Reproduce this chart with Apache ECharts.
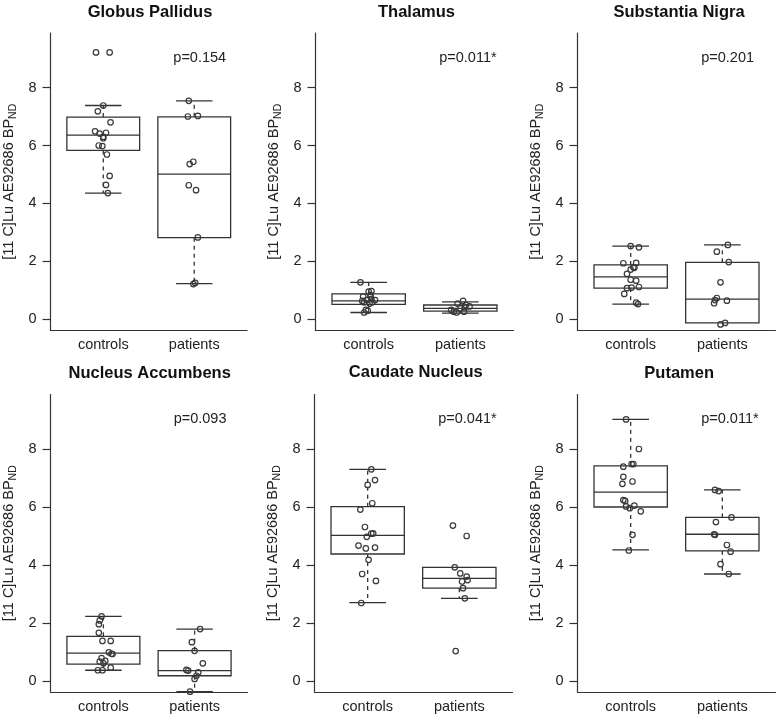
<!DOCTYPE html>
<html>
<head>
<meta charset="utf-8">
<script src="https://cdn.jsdelivr.net/npm/echarts@6/dist/echarts.min.js"></script>
<style>
html,body{margin:0;padding:0;background:#fff;}
#chart{width:777px;height:715px;}
</style>
</head>
<body>
<div id="chart"></div>
<script>
// ---------------- DATA ----------------
const titles = ['Globus Pallidus', 'Thalamus', 'Substantia Nigra', 'Nucleus Accumbens', 'Caudate Nucleus', 'Putamen'];
const groups = ['controls', 'patients'];
const pLabels = ['p=0.154', 'p=0.011*', 'p=0.201', 'p=0.093', 'p=0.041*', 'p=0.011*'];
const pLabelAt = [1.77, 9.03];
const yTicks = [0, 2, 4, 6, 8];
const yAxisTitle = '[11 C]Lu AE92686 BP';
const yAxisSub = 'ND';

// box statistics [lower whisker, Q1, median, Q3, upper whisker]
const ctrlBox = [
  [4.36, 5.83, 6.36, 6.98, 7.38],
  [0.24, 0.52, 0.64, 0.88, 1.28],
  [0.53, 1.08, 1.47, 1.88, 2.53],
  [0.37, 0.58, 0.96, 1.54, 2.23],
  [2.70, 4.38, 5.02, 6.01, 7.30],
  [4.52, 6.00, 6.51, 7.42, 9.02]
];
const patBox = [
  [1.24, 2.82, 5.01, 6.99, 7.54],
  [0.22, 0.29, 0.38, 0.50, 0.61],
  [-0.12, -0.12, 0.70, 1.97, 2.57],
  [-0.37, 0.18, 0.36, 1.05, 1.79],
  [2.85, 3.20, 3.54, 3.92, 3.92],
  [3.69, 4.49, 5.06, 5.64, 6.59]
];

// individual values (y) and their jittered group positions (x)
const ctrlVals = [
  [9.21, 9.21, 7.38, 7.18, 6.80, 6.49, 6.41, 6.44, 6.30, 6.25, 6.00, 5.98, 5.69, 4.95, 4.64, 4.36],
  [1.28, 0.96, 0.98, 0.79, 0.79, 0.64, 0.67, 0.71, 0.67, 0.59, 0.55, 0.59, 0.33, 0.30, 0.24, 0.84],
  [2.53, 2.49, 1.94, 1.95, 1.80, 1.72, 1.57, 1.37, 1.34, 1.08, 1.10, 1.12, 0.88, 0.58, 0.53, 1.78],
  [2.23, 2.09, 1.96, 1.66, 1.38, 1.38, 0.99, 0.94, 0.93, 0.79, 0.67, 0.61, 0.46, 0.37, 0.37, 0.69],
  [7.30, 6.93, 6.76, 6.13, 5.91, 5.31, 5.08, 5.09, 4.97, 4.67, 4.57, 4.60, 4.18, 3.69, 3.45, 2.69],
  [9.02, 8.00, 7.39, 7.48, 7.48, 7.04, 6.88, 6.80, 6.24, 6.21, 6.02, 5.96, 6.05, 5.85, 5.04, 4.50]
];
const ctrlJit = [
  [0.92, 1.07, 1.00, 0.94, 1.08, 0.91, 0.96, 1.03, 1.00, 1.00, 0.95, 0.99, 1.04, 1.07, 1.03, 1.05],
  [0.91, 1.00, 1.03, 0.94, 1.02, 0.93, 0.98, 1.03, 1.07, 0.95, 1.01, 1.04, 0.97, 0.99, 0.95, 1.02],
  [1.00, 1.09, 0.92, 1.06, 1.03, 1.00, 0.96, 1.00, 1.06, 0.96, 1.01, 1.09, 0.93, 1.06, 1.08, 1.04],
  [0.98, 0.96, 0.95, 0.95, 0.99, 1.08, 1.06, 1.09, 1.10, 0.98, 0.96, 1.00, 1.08, 0.94, 0.99, 1.02],
  [1.04, 1.08, 1.00, 1.05, 0.92, 0.97, 1.04, 1.06, 0.99, 0.90, 0.98, 1.08, 1.01, 0.94, 1.09, 0.93],
  [0.95, 1.09, 0.92, 1.01, 1.03, 0.92, 1.02, 0.91, 0.92, 0.94, 0.95, 0.99, 1.04, 1.11, 1.02, 0.98]
];
const patVals = [
  [7.54, 7.00, 7.02, 5.36, 5.44, 4.63, 4.46, 2.83, 1.22, 1.26],
  [0.64, 0.55, 0.50, 0.45, 0.42, 0.38, 0.33, 0.27, 0.24, 0.27],
  [2.57, 2.34, 1.98, 1.28, 0.74, 0.56, 0.65, -0.17, -0.12, 0.67],
  [1.79, 1.34, 1.04, 0.61, 0.38, 0.36, 0.30, 0.18, 0.07, -0.37],
  [5.36, 5.00, 3.92, 3.71, 3.60, 3.48, 3.43, 3.20, 2.85, 1.03],
  [6.59, 6.55, 5.64, 5.48, 5.06, 5.04, 4.69, 4.46, 4.03, 3.69]
];
const patJit = [
  [1.94, 1.93, 2.04, 1.95, 1.99, 1.94, 2.02, 2.04, 1.99, 2.01],
  [2.03, 1.97, 2.06, 2.10, 2.05, 2.00, 1.90, 1.93, 1.96, 2.04],
  [2.06, 1.94, 2.07, 1.98, 1.94, 1.91, 2.05, 1.98, 2.03, 1.92],
  [2.06, 1.97, 2.00, 2.09, 1.91, 1.93, 2.04, 2.02, 2.00, 1.95],
  [1.93, 2.08, 1.95, 2.01, 2.08, 2.09, 2.03, 2.04, 2.06, 1.96],
  [1.92, 1.96, 2.10, 1.93, 1.91, 1.92, 2.05, 2.09, 1.98, 2.07]
];

// ---------------- LAYOUT / STYLE ----------------
const FONT = "'Liberation Sans', Arial, Helvetica, sans-serif";
const LINE = '#333333';
const TEXT = '#222222';
const grids = [
  {left: 49, top: 33, width: 198, height: 297.5},
  {left: 315.5, top: 33, width: 198, height: 297.5},
  {left: 577.5, top: 33, width: 198, height: 297.5},
  {left: 49.5, top: 394.5, width: 198, height: 297.5},
  {left: 314.5, top: 394.5, width: 198, height: 297.5},
  {left: 577.5, top: 394.5, width: 198, height: 297.5}
];
const titlePos = [[150, 12], [416.5, 12], [679, 12.5], [149.7, 373.3], [415.8, 372], [679.2, 373.3]];

const xAxes = [], yAxes = [], series = [], graphics = [];
titles.forEach((t, i) => {
  xAxes.push({
    type: 'value', gridIndex: i, min: 0.42, max: 2.58,
    axisLine: {show: true, onZero: false, lineStyle: {color: LINE, width: 1.2}},
    axisTick: {show: false},
    splitLine: {show: false},
    axisLabel: {
      customValues: [1, 2], margin: 7,
      formatter: v => groups[Math.round(v) - 1],
      color: TEXT, fontSize: 14.5, fontFamily: FONT
    }
  });
  yAxes.push({
    type: 'value', gridIndex: i, min: -0.38, max: 9.88,
    axisLine: {show: true, onZero: false, lineStyle: {color: LINE, width: 1.2}},
    axisTick: {show: true, customValues: yTicks, length: 8, lineStyle: {color: LINE, width: 1.2}},
    splitLine: {show: false},
    axisLabel: {customValues: yTicks, margin: 14, color: TEXT, fontSize: 14.5, fontFamily: FONT},
    name: '{m|' + yAxisTitle + '}{s|' + yAxisSub + '}',
    nameLocation: 'middle', nameRotate: 90, nameGap: 32,
    nameTextStyle: {
      color: TEXT, fontFamily: FONT, fontSize: 14.5,
      rich: {
        m: {fontSize: 14.5, fontFamily: FONT, color: TEXT, lineHeight: 20, verticalAlign: 'middle'},
        s: {fontSize: 10.5, fontFamily: FONT, color: TEXT, lineHeight: 20, verticalAlign: 'bottom'}
      }
    }
  });
  graphics.push({
    type: 'text', x: titlePos[i][0], y: titlePos[i][1],
    style: {text: t, font: 'bold 16.5px ' + FONT, fill: '#111', textAlign: 'center', textVerticalAlign: 'middle', align: 'center', verticalAlign: 'middle'}
  });

  // boxes
  series.push({
    type: 'custom', xAxisIndex: i, yAxisIndex: i,
    data: [[1].concat(ctrlBox[i]), [2].concat(patBox[i])],
    renderItem: function (params, api) {
      const g = api.value(0), lo = api.value(1), q1 = api.value(2), md = api.value(3), q3 = api.value(4), hi = api.value(5);
      const hw = 0.4, cw = 0.2;
      const a = api.coord([g - hw, q3]), b = api.coord([g + hw, q1]);
      const m1 = api.coord([g - hw, md]), m2 = api.coord([g + hw, md]);
      const c = api.coord([g, 0])[0];
      const yHi = api.coord([g, hi])[1], yLo = api.coord([g, lo])[1];
      const cl = api.coord([g - cw, 0])[0], cr = api.coord([g + cw, 0])[0];
      const st = {stroke: LINE, lineWidth: 1.3, fill: null};
      const dash = {stroke: LINE, lineWidth: 1.3, lineDash: [4, 4], fill: null};
      const ch = [];
      if (hi > q3) {
        ch.push({type: 'line', shape: {x1: c, y1: a[1], x2: c, y2: yHi}, style: dash});
        ch.push({type: 'line', shape: {x1: cl, y1: yHi, x2: cr, y2: yHi}, style: st});
      }
      if (lo < q1) {
        ch.push({type: 'line', shape: {x1: c, y1: b[1], x2: c, y2: yLo}, style: dash});
        ch.push({type: 'line', shape: {x1: cl, y1: yLo, x2: cr, y2: yLo}, style: st});
      }
      ch.push({type: 'rect', shape: {x: a[0], y: a[1], width: b[0] - a[0], height: b[1] - a[1]}, style: {stroke: LINE, lineWidth: 1.3, fill: 'rgba(255,255,255,0)'}});
      ch.push({type: 'line', shape: {x1: m1[0], y1: m1[1], x2: m2[0], y2: m2[1]}, style: st});
      return {type: 'group', children: ch};
    },
    silent: true, animation: false, z: 2
  });

  // points
  const pts = ctrlVals[i].map((v, j) => [ctrlJit[i][j], v]).concat(patVals[i].map((v, j) => [patJit[i][j], v]));
  series.push({
    type: 'scatter', xAxisIndex: i, yAxisIndex: i, data: pts,
    symbol: 'circle', symbolSize: 5.5,
    itemStyle: {color: 'rgba(255,255,255,0)', borderColor: '#3a3a3a', borderWidth: 1.2, opacity: 1},
    silent: true, animation: false, z: 3
  });

  // p-value annotation
  series.push({
    type: 'custom', xAxisIndex: i, yAxisIndex: i,
    data: [pLabelAt],
    renderItem: function (params, api) {
      const p = api.coord([api.value(0), api.value(1)]);
      return {type: 'text', x: p[0], y: p[1], style: {text: pLabels[i], font: '14.5px ' + FONT, fill: TEXT, align: 'left', verticalAlign: 'middle', textAlign: 'left', textVerticalAlign: 'middle'}};
    },
    silent: true, animation: false, z: 4
  });
});

const chart = echarts.init(document.getElementById('chart'), null, {renderer: 'canvas'});
chart.setOption({
  animation: false,
  backgroundColor: '#ffffff',
  grid: grids.map(g => Object.assign({containLabel: false}, g)),
  xAxis: xAxes,
  yAxis: yAxes,
  series: series,
  graphic: graphics
});
</script>
</body>
</html>
